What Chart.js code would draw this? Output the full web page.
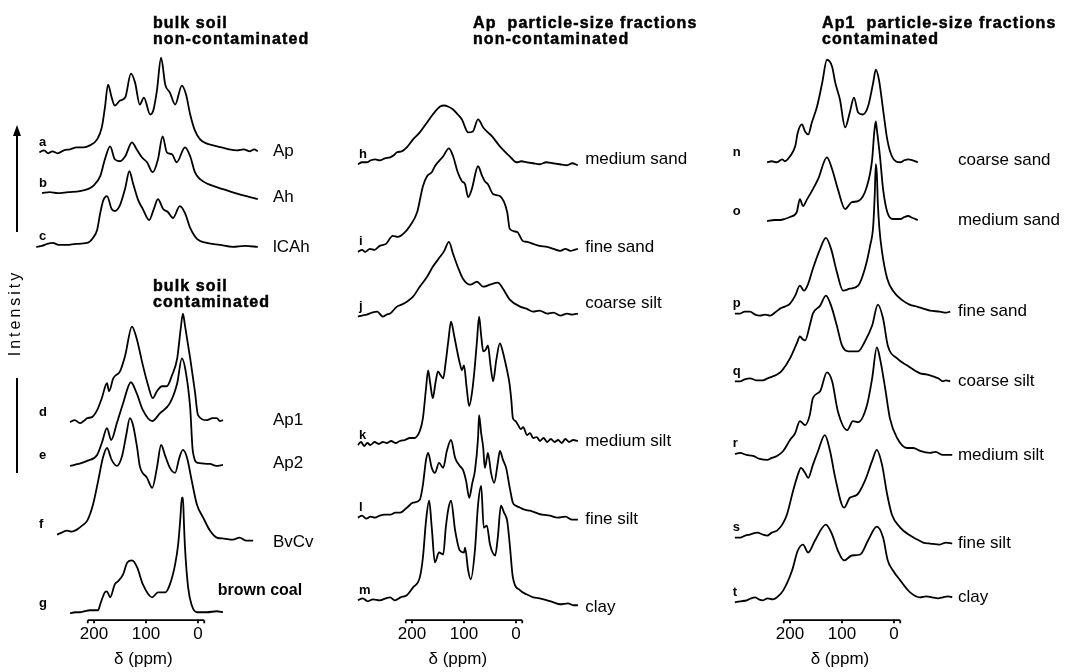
<!DOCTYPE html>
<html>
<head>
<meta charset="utf-8">
<script src="https://cdn.jsdelivr.net/npm/chart.js@4.4.0/dist/chart.umd.min.js"></script>
<style>
  body { margin: 0; background: #fff; }
  #fig { position: relative; width: 1066px; height: 672px; overflow: hidden; font-family: "Liberation Sans", Arial, sans-serif; color: #000; }
  #fig canvas { position: absolute; left: 0; top: 0; }
  .ttl { position: absolute; font-weight: bold; font-size: 16px; letter-spacing: 1.1px; line-height: 15.5px; white-space: pre; -webkit-text-stroke: 0.5px #000; }
  #ylab { position: absolute; left: 15px; top: 313px; font-size: 16px; letter-spacing: 3px; transform: translate(-50%, -50%) rotate(-90deg); white-space: nowrap; }
  .vline { position: absolute; left: 16px; width: 2px; background: #000; }
  #ahead { position: absolute; left: 13px; top: 125px; width: 0; height: 0; border-left: 4px solid transparent; border-right: 4px solid transparent; border-bottom: 11px solid #000; }
</style>
</head>
<body>
<div id="fig">
  <canvas id="c1" width="1066" height="672"></canvas>
  <canvas id="c2" width="1066" height="672"></canvas>
  <canvas id="c3" width="1066" height="672"></canvas>
  <div class="ttl" style="left:153px;top:15px">bulk soil
non-contaminated</div>
  <div class="ttl" style="left:153px;top:278px">bulk soil
contaminated</div>
  <div class="ttl" style="left:473px;top:15px">Ap  particle-size fractions
non-contaminated</div>
  <div class="ttl" style="left:822px;top:15px">Ap1  particle-size fractions
contaminated</div>
  <div id="ahead"></div>
  <div class="vline" style="top:134px;height:98px"></div>
  <div id="ylab">Intensity</div>
  <div class="vline" style="top:378px;height:95px"></div>
</div>
<script>
// 13C NMR spectra, [ppm, intensity above the trace's own baseline]
const xTicks = [200, 100, 0];

// bulk soil, non-contaminated / contaminated
const specA = [[305,0],[296,2],[288,-1],[280,1],[270,-1],[258,2],[246,3],[233,5],[220,5],[208,7],[194,13],[185,25],[179,45],[173,68],[166,55],[160,47],[150,52],[140,55],[129,79],[121,70],[112,48],[104,55],[92,38],[86,42],[79,62],[71,95],[63,68],[54,60],[44,48],[31,67],[23,58],[15,38],[6,22],[-4,13],[-16,9],[-29,7],[-45,5],[-60,3],[-75,2],[-88,3],[-100,1],[-108,3],[-115,1]];
const specB = [[300,0],[285,1],[270,0],[250,1],[227,2],[212,4],[202,7],[188,17],[179,34],[169,47],[160,34],[150,32],[140,37],[127,51],[118,44],[108,36],[98,31],[87,21],[77,34],[68,57],[60,41],[50,39],[41,31],[25,46],[15,37],[6,21],[-4,14],[-20,9],[-36,6],[-60,2],[-85,-2],[-100,-4],[-115,-6]];
const specC = [[311,0],[300,1],[290,3],[279,4],[268,2],[252,2],[235,3],[213,4],[202,9],[194,17],[188,34],[182,47],[175,51],[166,38],[160,36],[150,42],[140,59],[132,76],[125,64],[115,47],[106,38],[94,27],[85,38],[77,48],[67,38],[58,35],[48,29],[35,41],[25,34],[15,19],[2,8],[-17,4],[-42,2],[-67,0],[-90,1],[-115,0]];
const specD = [[246,0],[237,2],[227,-1],[220,1],[213,4],[204,5],[194,12],[185,24],[175,39],[171,31],[163,44],[150,51],[140,67],[127,96],[118,84],[106,57],[96,37],[87,24],[79,31],[69,36],[60,36],[50,47],[40,64],[33,95],[29,109],[25,97],[15,64],[6,31],[0,7],[-17,2],[-28,4],[-36,4],[-42,1],[-48,2]];
const specE = [[246,0],[230,2],[213,5],[194,11],[185,23],[175,38],[167,26],[156,43],[144,63],[129,84],[118,73],[106,56],[88,45],[73,53],[54,63],[40,83],[31,108],[23,93],[15,58],[10,15],[0,3],[-23,2],[-35,0],[-48,1]];
const specF = [[271,0],[262,2],[252,4],[243,3],[233,5],[223,9],[213,14],[202,30],[192,54],[183,77],[175,87],[166,75],[156,69],[146,79],[138,100],[131,117],[125,110],[117,87],[112,69],[98,57],[88,47],[79,67],[71,90],[63,79],[54,67],[44,62],[36,77],[29,85],[21,77],[12,54],[2,30],[-10,17],[-23,4],[-36,-3],[-50,-4],[-67,-5],[-80,-3],[-92,-6],[-106,-6]];
const specG = [[246,0],[236,1],[227,1],[218,2],[208,3],[192,3],[188,9],[179,21],[175,22],[169,16],[160,29],[154,32],[144,39],[136,51],[127,53],[117,46],[106,29],[88,16],[77,21],[63,21],[54,29],[44,49],[38,70],[34,95],[31,116],[29,116],[27,90],[25,66],[19,26],[12,8],[2,1],[-17,1],[-36,2],[-48,1]];

// Ap particle-size fractions, non-contaminated
const specH = [[304,0],[296,2],[287,2],[279,4],[271,5],[262,4],[252,6],[242,7],[235,9],[229,12],[220,13],[210,17],[198,25],[185,32],[171,42],[160,50],[146,58],[138,59],[131,58],[121,55],[112,50],[104,45],[92,32],[83,33],[73,45],[63,37],[54,32],[46,28],[31,18],[20,12],[12,8],[-1,2],[-10,3],[-21,2],[-33,1],[-46,0],[-58,2],[-71,1],[-84,0],[-98,-1],[-108,1],[-119,-1]];
const specI = [[304,0],[296,2],[290,0],[281,3],[272,2],[262,6],[250,8],[237,16],[227,15],[217,18],[204,26],[190,40],[179,66],[171,76],[162,80],[156,86],[140,96],[129,104],[121,96],[112,80],[104,71],[98,68],[92,55],[85,63],[73,86],[65,76],[60,71],[54,68],[44,58],[31,56],[17,40],[12,23],[-2,20],[-13,11],[-22,10],[-33,8],[-45,6],[-60,5],[-72,3],[-85,1],[-95,3],[-105,1],[-112,2],[-119,3]];
const specJ = [[304,0],[296,1],[287,2],[277,4],[267,5],[256,0],[249,2],[242,3],[229,10],[220,12],[210,15],[198,20],[185,30],[171,40],[160,50],[146,60],[138,66],[129,75],[121,63],[112,50],[102,38],[88,32],[75,35],[63,30],[50,32],[35,34],[25,28],[12,17],[-8,10],[-20,8],[-33,5],[-45,6],[-60,3],[-72,4],[-85,1],[-98,3],[-108,2],[-119,3]];
const specK = [[304,0],[298,3],[292,-1],[286,2],[280,0],[272,3],[264,1],[256,3],[248,2],[240,4],[232,2],[223,4],[214,5],[204,7],[195,7],[190,9],[185,14],[179,27],[173,57],[169,75],[165,62],[160,47],[155,62],[150,74],[145,70],[140,67],[135,84],[130,105],[125,124],[119,110],[113,94],[108,82],[104,75],[100,80],[95,58],[90,39],[84,55],[79,80],[75,105],[71,129],[67,110],[63,94],[58,96],[54,100],[49,80],[44,64],[38,85],[31,102],[26,95],[21,84],[16,72],[12,60],[9,45],[6,27],[1,24],[-4,20],[-9,16],[-14,18],[-21,10],[-27,12],[-33,7],[-40,8],[-46,4],[-53,7],[-60,3],[-67,6],[-74,3],[-81,5],[-88,2],[-95,6],[-102,3],[-110,5],[-119,4]];
const specL = [[304,0],[296,2],[288,-1],[280,1],[271,0],[262,2],[252,3],[242,3],[232,5],[223,5],[210,10],[198,15],[185,18],[179,33],[173,58],[169,65],[162,50],[156,45],[148,55],[140,50],[133,67],[125,78],[117,60],[108,52],[102,48],[96,37],[90,20],[84,35],[79,47],[73,80],[71,103],[67,85],[63,70],[60,50],[56,60],[54,65],[48,45],[42,35],[35,55],[31,67],[25,58],[19,50],[12,30],[6,15],[0,12],[-8,10],[-16,8],[-27,7],[-38,5],[-50,3],[-65,2],[-80,0],[-95,1],[-108,-2],[-119,-2]];
const specM = [[304,0],[295,2],[285,-1],[275,1],[262,0],[250,2],[242,3],[233,0],[222,3],[210,5],[198,13],[185,23],[179,43],[173,80],[167,100],[162,73],[156,38],[148,48],[140,46],[135,73],[130,92],[125,100],[117,70],[108,50],[100,48],[98,53],[92,30],[87,21],[79,50],[73,96],[67,115],[62,73],[56,75],[50,56],[40,45],[35,63],[29,95],[23,88],[17,80],[12,56],[6,23],[-8,10],[-20,6],[-33,3],[-45,2],[-60,0],[-72,-2],[-85,-4],[-100,-3],[-110,-5],[-119,-5]];

// Ap1 particle-size fractions, contaminated
const specN = [[244,0],[235,1],[225,0],[215,3],[210,1],[200,6],[190,16],[185,30],[177,38],[171,31],[165,28],[158,40],[148,56],[138,80],[129,103],[119,96],[113,80],[104,63],[94,35],[85,50],[77,65],[69,50],[60,48],[50,56],[40,80],[35,93],[29,83],[21,53],[13,23],[4,6],[-12,0],[-20,2],[-27,3],[-36,2],[-46,0]];
const specO = [[244,0],[230,1],[219,1],[210,2],[200,4],[187,9],[181,22],[175,15],[167,22],[158,30],[146,42],[129,64],[119,52],[108,32],[94,12],[81,19],[69,20],[52,35],[42,62],[38,89],[35,100],[33,92],[27,65],[21,32],[13,9],[2,2],[-12,2],[-20,4],[-27,5],[-36,3],[-46,1]];
const specP = [[306,0],[296,0],[287,2],[277,2],[267,-1],[258,-2],[248,-1],[238,-2],[229,1],[219,5],[210,7],[200,10],[190,18],[181,28],[173,23],[165,30],[156,45],[142,65],[131,76],[121,65],[110,42],[98,23],[85,25],[69,28],[56,45],[46,68],[40,88],[37,120],[35,150],[33,140],[31,110],[28,85],[23,62],[13,35],[2,23],[-17,13],[-30,9],[-44,7],[-56,5],[-69,3],[-88,2],[-100,1],[-108,2]];
const specQ = [[306,0],[296,0],[287,2],[277,3],[265,1],[252,1],[243,3],[233,5],[224,7],[215,11],[200,23],[187,38],[181,45],[175,42],[171,41],[162,56],[156,68],[142,76],[131,86],[121,76],[110,56],[100,36],[88,30],[69,30],[56,40],[42,56],[31,77],[21,63],[12,36],[-6,23],[-25,16],[-50,8],[-62,7],[-75,5],[-85,3],[-94,0],[-100,1],[-108,0]];
const specR = [[306,-1],[296,0],[284,-2],[271,-3],[258,-6],[244,-7],[235,-5],[225,-3],[213,2],[200,13],[190,20],[181,32],[171,28],[162,38],[156,55],[142,62],[129,81],[119,72],[108,42],[90,23],[79,32],[69,31],[52,48],[42,75],[33,106],[27,95],[17,65],[8,35],[-6,15],[-25,5],[-37,5],[-50,2],[-69,0],[-80,1],[-94,-2],[-112,-2]];
const specS = [[306,0],[296,0],[286,2],[277,3],[263,5],[252,3],[244,2],[235,5],[225,7],[215,13],[206,23],[194,47],[185,63],[179,70],[171,65],[165,60],[156,73],[146,87],[133,103],[123,87],[113,60],[96,30],[85,40],[71,43],[56,57],[42,77],[33,88],[23,73],[13,43],[4,23],[-12,10],[-31,2],[-45,-2],[-56,-5],[-70,-6],[-88,-7],[-100,-5],[-112,-6]];
const specT = [[306,0],[295,1],[283,2],[275,4],[267,5],[260,3],[252,2],[243,4],[233,3],[223,6],[213,12],[196,32],[185,52],[175,58],[165,50],[152,62],[131,78],[119,68],[108,52],[96,42],[81,47],[65,48],[50,62],[33,76],[21,65],[12,42],[2,32],[-12,22],[-31,10],[-50,5],[-62,6],[-73,5],[-85,4],[-94,5],[-104,6],[-112,5]];

// stacking offsets (same intensity units), trace letters and sample names
const offsets1 = [470, 429, 375, 199, 155, 86, 7];
const offsets2 = [458, 370, 305, 176, 103, 20];
const offsets3 = [460, 401, 308, 240, 168, 83, 18];
const letters1 = ['a', 'b', 'c', 'd', 'e', 'f', 'g'];
const letters2 = ['h', 'i', 'j', 'k', 'l', 'm'];
const letters3 = ['n', 'o', 'p', 'q', 'r', 's', 't'];
const names1 = ['Ap', 'Ah', 'lCAh', 'Ap1', 'Ap2', 'BvCv', 'brown coal'];
const names2 = ['medium sand', 'fine sand', 'coarse silt', 'medium silt', 'fine silt', 'clay'];
const names3 = ['coarse sand', 'medium sand', 'fine sand', 'coarse silt', 'medium silt', 'fine silt', 'clay'];

const INK = '#000';
const FONT = '"Liberation Sans", Arial, sans-serif';
const PX_PER_PPM = 0.52;
const AXIS_FROM = 212, AXIS_TO = -12;

const panels = [
  { id: 'c1', zero: 198, min: -105, max: 315, series: [specA, specB, specC, specD, specE, specF, specG],
    offsets: offsets1, letters: letters1, names: names1, letterPpm: 306,
    namePpm: [-144, -144, -144, -144, -144, -144, -38], nameDy: [0, -2, 0, 0, -2, 2, -22], boldName: 6 },
  { id: 'c2', zero: 516, min: -90, max: 314, series: [specH, specI, specJ, specK, specL, specM],
    offsets: offsets2, letters: letters2, names: names2, letterPpm: 302,
    namePpm: [-133, -133, -133, -133, -133, -133], nameDy: [-6, -2, -10, 0, 0, 2], boldName: -1 },
  { id: 'c3', zero: 894, min: -100, max: 308, series: [specN, specO, specP, specQ, specR, specS, specT],
    offsets: offsets3, letters: letters3, names: names3, letterPpm: 310,
    namePpm: [-123, -123, -123, -123, -123, -123, -123], nameDy: [-2, 0, 0, 0, 0, 0, 0], boldName: -1 }
];

// axis segment, trace letters and sample names, placed through the scales
const stackLabels = {
  id: 'stackLabels',
  afterDatasetsDraw(chart, args, opts) {
    const p = opts.panel;
    const { ctx, chartArea } = chart;
    const xs = chart.scales.x, ys = chart.scales.y;
    const yb = chartArea.bottom;
    ctx.save();
    ctx.strokeStyle = INK;
    ctx.fillStyle = INK;
    ctx.lineWidth = 1.8;
    ctx.beginPath();
    ctx.moveTo(xs.getPixelForValue(AXIS_FROM), yb);
    ctx.lineTo(xs.getPixelForValue(AXIS_TO), yb);
    [AXIS_FROM, ...xTicks, AXIS_TO].forEach(v => {
      const px = xs.getPixelForValue(v);
      ctx.moveTo(px, yb);
      ctx.lineTo(px, yb + 3);
    });
    ctx.stroke();

    ctx.textBaseline = 'middle';
    ctx.textAlign = 'left';
    ctx.font = 'bold 13px ' + FONT;
    p.letters.forEach((t, i) => {
      ctx.fillText(t, xs.getPixelForValue(p.letterPpm), ys.getPixelForValue(p.offsets[i]) - 10);
    });
    p.names.forEach((t, i) => {
      const s = p.series[i];
      const last = s[s.length - 1];
      ctx.font = (i === p.boldName ? 'bold 16px ' : '17px ') + FONT;
      ctx.fillText(t, xs.getPixelForValue(p.namePpm[i]), ys.getPixelForValue(p.offsets[i] + last[1]) + p.nameDy[i]);
    });
    ctx.restore();
  }
};

panels.forEach(p => {
  const left = p.zero - PX_PER_PPM * p.max;
  const right = 1066 - (p.zero - PX_PER_PPM * p.min);
  new Chart(document.getElementById(p.id), {
    type: 'line',
    data: {
      datasets: p.series.map((s, i) => ({
        data: s.map(([ppm, v]) => ({ x: ppm, y: v + p.offsets[i] })),
        borderColor: INK,
        borderWidth: 1.8,
        borderJoinStyle: 'round',
        pointRadius: 0,
        cubicInterpolationMode: 'monotone',
        capBezierPoints: false,
        fill: false,
        clip: false
      }))
    },
    options: {
      responsive: false,
      animation: false,
      events: [],
      layout: { padding: { left: left, right: right, top: 0, bottom: 2 } },
      plugins: { legend: { display: false }, tooltip: { enabled: false }, stackLabels: { panel: p } },
      scales: {
        x: {
          type: 'linear',
          reverse: true,
          min: p.min,
          max: p.max,
          grid: { display: false, drawTicks: false },
          border: { display: false },
          afterBuildTicks: scale => { scale.ticks = xTicks.map(v => ({ value: v })); },
          ticks: { font: { family: FONT, size: 17 }, color: INK, padding: 4, autoSkip: false, maxRotation: 0, callback: v => String(v) },
          title: { display: true, text: 'δ (ppm)', font: { family: FONT, size: 17 }, color: INK, padding: { top: 1, bottom: 0 } }
        },
        y: { display: false, min: 0, max: 623 }
      }
    },
    plugins: [stackLabels]
  });
});
</script>
</body>
</html>
